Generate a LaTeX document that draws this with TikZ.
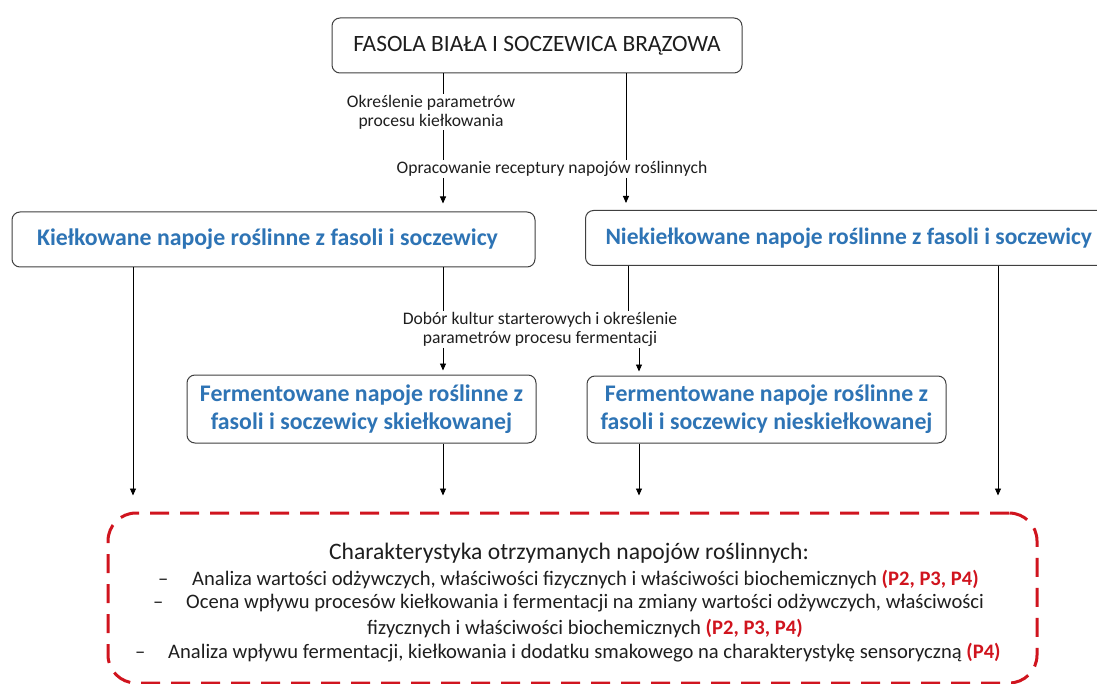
\documentclass[tikz,border=0pt]{standalone}
\usepackage{fontspec}
\setmainfont{Carlito}
\usetikzlibrary{arrows.meta}
\definecolor{boxblue}{RGB}{46,116,181}
\definecolor{dred}{RGB}{208,20,30}
\definecolor{bord}{RGB}{64,64,64}
\definecolor{txt}{RGB}{30,30,30}
\begin{document}
\begin{tikzpicture}[x=1pt,y=-1pt,
  box/.style={draw=bord, line width=1pt, rounded corners=8pt, fill=white, inner sep=0pt},
  bluetxt/.style={font=\fontsize{23.8}{28}\selectfont\bfseries, text=boxblue, align=center},
  lbl/.style={font=\fontsize{17.6}{19}\selectfont, text=txt, align=center, inner sep=1pt},
  ln/.style={draw=black, line width=0.9pt},
  arr/.style={ln, -{Triangle[length=7pt,width=6pt]}},
  dbox/.style={draw=dred, line width=3pt, dash pattern=on 19pt off 11pt, rounded corners=28pt, inner sep=0pt},
  listtxt/.style={font=\fontsize{20.6}{22}\selectfont, text=txt, anchor=base west, inner sep=0pt}
]
\useasboundingbox (0,0) rectangle (1097,684);
\clip (0,0) rectangle (1097,684);

% boxes
\node[box, minimum width=410pt, minimum height=55pt, font=\fontsize{23.4}{26}\selectfont, text=txt] (src) at (537,45.5) {FASOLA BIAŁA I SOCZEWICA BRĄZOWA};
\node[box, bluetxt, minimum width=523pt, minimum height=55pt] (kiel) at (273.5,239.5) {Kiełkowane napoje roślinne z fasoli i soczewicy\kern12pt};
\node[box, bluetxt, font=\fontsize{23.5}{28}\selectfont\bfseries, anchor=north west, minimum height=55pt, inner xsep=20pt] (niek) at (585,210) {Niekiełkowane napoje roślinne z fasoli i soczewicy\kern60pt};
\node[box, bluetxt, minimum width=349pt, minimum height=68pt] (fl) at (361.5,409) {Fermentowane napoje roślinne z\\fasoli i soczewicy skiełkowanej};
\node[box, bluetxt, minimum width=359pt, minimum height=67pt] (fr) at (766.5,409.5) {Fermentowane napoje roślinne z\\fasoli i soczewicy nieskiełkowanej};
\node[dbox, minimum width=929pt, minimum height=170pt] (char) at (572.5,598) {};

% labels
\node[lbl] (l1) at (431,112) {Określenie parametrów\\procesu kiełkowania};
\node[lbl] (l2) at (552,169) {Opracowanie receptury napojów roślinnych};
\node[lbl] (l3) at (540,329.5) {Dobór kultur starterowych i określenie\\parametrów procesu fermentacji};

% x positions
\coordinate (xa) at (443,0);
\coordinate (xb) at (626,0);
\coordinate (xc) at (628,0);
\coordinate (xd) at (639,0);
\coordinate (xe) at (998,0);
\coordinate (xf) at (133,0);

% connectors
\draw[ln] (src.south -| xa) -- (l1.north -| xa);
\draw[ln] (l1.south -| xa) -- (l2.north -| xa);
\draw[ln] (src.south -| xb) -- (l2.north -| xb);
\draw[arr, shorten >=8pt] (l2.south -| xa) -- (kiel.north -| xa);
\draw[arr, shorten >=7pt] (l2.south -| xb) -- (niek.north -| xb);
\draw[ln] (kiel.south -| xa) -- (l3.north -| xa);
\draw[ln] (niek.south -| xc) -- (l3.north -| xc);
\draw[arr, shorten >=4pt] (l3.south -| xa) -- (fl.north -| xa);
\draw[arr, shorten >=4pt] (l3.south -| xd) -- (fr.north -| xd);
\draw[arr, shorten >=16pt] (kiel.south -| xf) -- (char.north -| xf);
\draw[arr, shorten >=16pt] (fl.south -| xa) -- (char.north -| xa);
\draw[arr, shorten >=16pt] (fr.south -| xd) -- (char.north -| xd);
\draw[arr, shorten >=16pt] (niek.south -| xe) -- (char.north -| xe);

% text in characteristic box
\node[font=\fontsize{23.6}{26}\selectfont, text=txt, anchor=base, inner sep=0pt] (h0) at (569,559) {Charakterystyka otrzymanych napojów roślinnych:};
\node[listtxt] (d1) at (158,585) {–};
\node[listtxt] (t1) at (192,585) {Analiza wartości odżywczych, właściwości fizycznych i właściwości biochemicznych \textcolor{dred}{\bfseries (P2, P3, P4)}};
\node[listtxt] (d2) at (153,608) {–};
\node[listtxt] (t2) at (186,608) {Ocena wpływu procesów kiełkowania i fermentacji na zmiany wartości odżywczych, właściwości};
\node[listtxt] (t3) at (367,634) {fizycznych i właściwości biochemicznych \textcolor{dred}{\bfseries (P2, P3, P4)}};
\node[listtxt] (d4) at (135,658) {–};
\node[listtxt] (t4) at (168,658) {Analiza wpływu fermentacji, kiełkowania i dodatku smakowego na charakterystykę sensoryczną \textcolor{dred}{\bfseries (P4)}};
\end{tikzpicture}
\end{document}
